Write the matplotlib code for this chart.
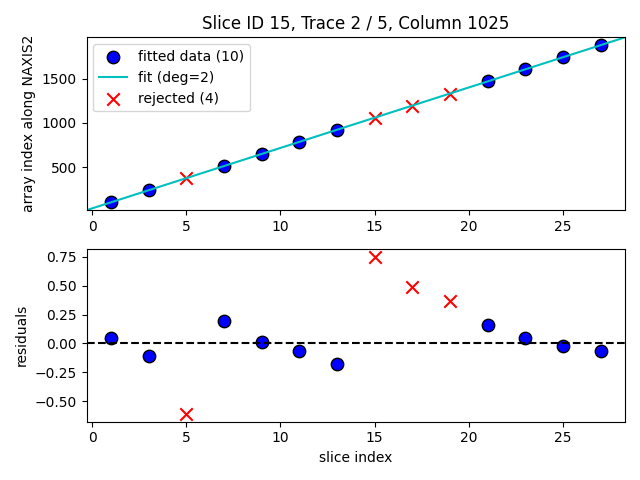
import numpy as np
import matplotlib
matplotlib.use("Agg")
import matplotlib.pyplot as plt

# slice index and measured trace position (array index along NAXIS2)
slice_idx = np.array([1, 3, 5, 7, 9, 11, 13, 15, 17, 19, 21, 23, 25, 27])
position = np.array([105.15, 241.19, 376.89, 513.89, 649.91, 786.03, 922.12,
                     1059.25, 1195.19, 1331.27, 1467.26, 1603.35, 1739.48, 1875.64])
rejected = np.array([False, False, True, False, False, False, False,
                     True, True, True, False, False, False, False])
deg = 2

title = "Slice ID 15, Trace 2 / 5, Column 1025"

keep = ~rejected
coeffs = np.polyfit(slice_idx[keep], position[keep], deg)
poly = np.poly1d(coeffs)
residuals = position - poly(slice_idx)

fig, (ax1, ax2) = plt.subplots(2, 1, figsize=(6.4, 4.8), dpi=100)

ax1.scatter(slice_idx[keep], position[keep], s=80, c='b', edgecolors='k',
            label="fitted data ({})".format(keep.sum()))
xlim = ax1.get_xlim()
xx = np.linspace(xlim[0], xlim[1], 200)
ax1.plot(xx, poly(xx), 'c', label="fit (deg={})".format(deg))
ax1.scatter(slice_idx[rejected], position[rejected], s=80, c='r', marker='x',
            label="rejected ({})".format(rejected.sum()))
ax1.set_xlim(xlim)
ax1.set_ylim(poly(xlim[0]), poly(xlim[1]))
ax1.set_ylabel("array index along NAXIS2")
ax1.set_title(title)
ax1.legend(loc='upper left')

ax2.scatter(slice_idx[keep], residuals[keep], s=80, c='b', edgecolors='k')
ax2.scatter(slice_idx[rejected], residuals[rejected], s=80, c='r', marker='x')
ax2.axhline(0, color='k', ls='--')
ax2.set_xlim(xlim)
ax2.set_xlabel("slice index")
ax2.set_ylabel("residuals")

plt.tight_layout()
plt.savefig("out.png")
plt.close()
